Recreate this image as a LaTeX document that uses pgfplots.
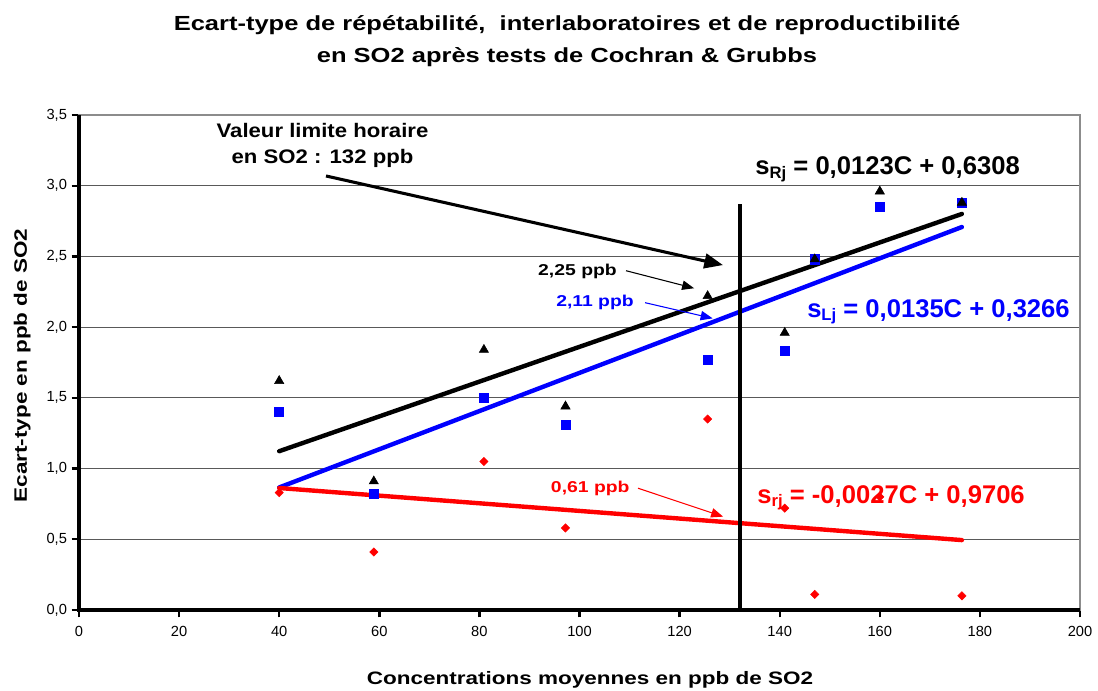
\documentclass[border=0pt]{standalone}
\usepackage{pgfplots}
\pgfplotsset{compat=1.18}
\usepackage{pgfplotstable}
\usetikzlibrary{arrows.meta}
\usepackage{fontspec}
\setmainfont{Liberation Sans}
\newfontfamily\tickfont{Liberation Sans}
\newfontfamily\widefont{Liberation Sans}[FakeStretch=1.25]
\newfontfamily\midfont{Liberation Sans}[FakeStretch=1.13]
\newfontfamily\annfont{Liberation Sans}[FakeStretch=1.23]

\pgfplotstableread{
x     sR    sL    sr
40.0  1.62  1.40  0.83
58.9  0.91  0.82  0.41
80.9  1.84  1.50  1.05
97.2  1.44  1.31  0.58
125.6 2.22  1.77  1.35
141.0 1.96  1.83  0.72
147.0 2.48  2.48  0.11
160.0 2.96  2.85  0.80
176.4 2.88  2.88  0.10
}\datatable

\newcommand{\eqfont}{\bfseries\fontsize{19.2}{22}\selectfont}
\newcommand{\subs}[1]{\raisebox{-2.6pt}{\fontsize{12.5}{12.5}\selectfont #1}}

\begin{document}
\begin{tikzpicture}
\useasboundingbox (-59.25pt,-60pt) rectangle (764.25pt,457.5pt);
\begin{axis}[
  at={(0pt,0pt)}, anchor=south west,
  scale only axis, width=750.75pt, height=371.25pt,
  xmin=0, xmax=200, ymin=0, ymax=3.5,
  xtick={0,20,40,60,80,100,120,140,160,180,200},
  ytick={0,0.5,1,1.5,2,2.5,3,3.5},
  tick pos=left, tick align=outside, major tick length=5.5pt,
  tick style={black, line width=1.8pt},
  ymajorgrids, grid style={black!65, line width=0.7pt},
  axis line style={draw=black!45, line width=0.8pt},
  ticklabel style={font=\tickfont\fontsize{11}{13}\selectfont},
  /pgf/number format/assume math mode=true,
  yticklabel style={/pgf/number format/.cd, fixed, fixed zerofill, precision=1, use comma},
  xticklabel style={yshift=-3pt, /pgf/number format/.cd, fixed, precision=0},
  clip=false,
]
% markers
\addplot[only marks, mark=square*, mark size=3.4pt, blue] table[x=x, y=sL] {\datatable};
\addplot[only marks, mark=square*, mark size=2.2pt, mark options={rotate=45}, red] table[x=x, y=sr] {\datatable};
\addplot[only marks, mark=triangle*, mark size=4pt, black] table[x=x, y=sR] {\datatable};
% regression lines
\addplot[no marks, black, line width=3.3pt, line cap=round] coordinates {(40,1.1228) (176.4,2.8005)};
\addplot[no marks, blue, line width=3.3pt, line cap=round] coordinates {(40,0.8666) (176.4,2.7080)};
\addplot[no marks, red, line width=3.3pt, line cap=round] coordinates {(40,0.8626) (176.4,0.4943)};
% limit line
\addplot[no marks, black, line width=3.2pt] coordinates {(132,0) (132,2.87)};
% thick axes
\draw[line width=3.5pt, black] (rel axis cs:0,1) -- (rel axis cs:0,0) -- (rel axis cs:1,0);
% annotations
\node[anchor=base, font=\midfont\bfseries\fontsize{14.7}{18}\selectfont] at (axis cs:48.65,3.342) {Valeur limite horaire};
\node[anchor=base, font=\midfont\bfseries\fontsize{14.7}{18}\selectfont] at (axis cs:48.65,3.158) {en SO2 : 132 ppb};
\draw[black, line width=2.3pt, -{Triangle[length=14pt, width=11pt]}] (axis cs:49.35,3.069) -- (axis cs:128.67,2.439);

\node[anchor=base west, inner sep=0pt, font=\annfont\bfseries\fontsize{11.8}{14}\selectfont, black] at (axis cs:91.7,2.364) {2,25 ppb};
\draw[black, line width=0.8pt, -{Triangle[length=9pt, width=7pt]}] (axis cs:109.3,2.399) -- (axis cs:122.9,2.275);
\node[anchor=base west, inner sep=0pt, font=\annfont\bfseries\fontsize{11.8}{14}\selectfont, blue] at (axis cs:95.3,2.145) {2,11 ppb};
\draw[blue, line width=0.8pt, -{Triangle[length=9pt, width=7pt]}] (axis cs:113.1,2.173) -- (axis cs:126.6,2.062);
\node[anchor=base west, inner sep=0pt, font=\annfont\bfseries\fontsize{11.8}{14}\selectfont, red] at (axis cs:94.25,0.829) {0,61 ppb};
\draw[red, line width=0.8pt, -{Triangle[length=9pt, width=7pt]}] (axis cs:111.7,0.861) -- (axis cs:128.7,0.660);

\node[anchor=base west, inner sep=0pt, font=\eqfont, black] at (axis cs:135.1,3.076) {s\subs{Rj} = 0,0123C + 0,6308};
\node[anchor=base west, inner sep=0pt, font=\eqfont, blue] at (axis cs:145.45,2.070) {s\subs{Lj} = 0,0135C + 0,3266};
\node[anchor=base west, inner sep=0pt, font=\eqfont, red] at (axis cs:135.5,0.754) {s\subs{rj} = -0,0027C + 0,9706};
\end{axis}
% title and axis labels
\node[anchor=base, font=\widefont\bfseries\fontsize{15.3}{24}\selectfont] at (366pt,434.25pt) {Ecart-type de répétabilité,\ \ interlaboratoires et de reproductibilité};
\node[anchor=base, font=\widefont\bfseries\fontsize{15.3}{24}\selectfont] at (366pt,410.8pt) {en SO2 après tests de Cochran \& Grubbs};
\node[anchor=base, font=\widefont\bfseries\fontsize{13.5}{16}\selectfont] at (383.25pt,-55.5pt) {Concentrations moyennes en ppb de SO2};
\node[anchor=base, rotate=90, font=\widefont\bfseries\fontsize{13.5}{16}\selectfont] at (-39pt,183.4pt) {Ecart-type en ppb de SO2};
\end{tikzpicture}
\end{document}
